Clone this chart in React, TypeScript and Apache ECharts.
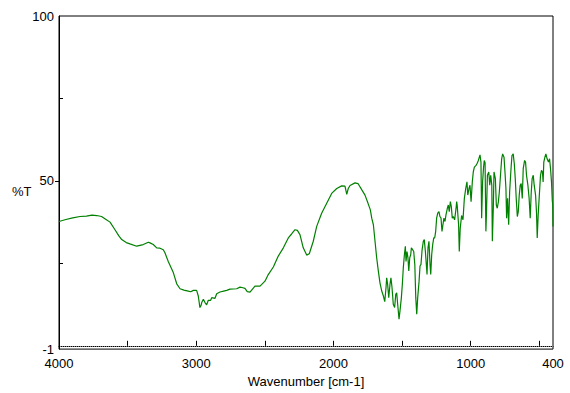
import React, { useEffect, useRef } from "react";
import * as echarts from "echarts";

const wavenumbers = [
  4000, 3950, 3900, 3847, 3800, 3760, 3725, 3690, 3660, 3628, 3592, 3565, 3543, 3510, 3483, 3434, 3386, 3349, 3337, 3313,
  3288, 3264, 3240, 3228, 3203, 3167, 3142, 3118, 3090, 3058, 3040, 3021, 2997, 2985, 2973, 2965, 2960, 2948, 2936, 2924,
  2912, 2895, 2887, 2863, 2851, 2827, 2800, 2778, 2754, 2705, 2681, 2660, 2645, 2628, 2608, 2590, 2572, 2535, 2499, 2475,
  2438, 2402, 2365, 2329, 2305, 2280, 2263, 2244, 2220, 2195, 2176, 2147, 2122, 2086, 2049, 2013, 1976, 1940, 1916, 1903,
  1892, 1879, 1843, 1821, 1792, 1770, 1748, 1731, 1721, 1709, 1697, 1685, 1673, 1661, 1648, 1636, 1626, 1617, 1612, 1605,
  1597, 1588, 1581, 1573, 1564, 1554, 1546, 1539, 1532, 1522, 1515, 1505, 1498, 1491, 1483, 1476, 1471, 1464, 1457, 1451,
  1444, 1437, 1432, 1422, 1415, 1407, 1400, 1393, 1386, 1376, 1369, 1362, 1354, 1345, 1338, 1330, 1323, 1318, 1311, 1304,
  1296, 1291, 1284, 1277, 1269, 1262, 1255, 1248, 1240, 1231, 1224, 1216, 1209, 1202, 1195, 1187, 1180, 1170, 1163, 1156,
  1148, 1141, 1134, 1127, 1117, 1107, 1102, 1098, 1088, 1083, 1076, 1066, 1056, 1046, 1036, 1027, 1021, 1012, 1005, 997,
  988, 981, 973, 961, 954, 944, 932, 925, 920, 913, 906, 901, 895, 889, 885, 878, 868, 861, 854, 846,
  842, 835, 830, 820, 813, 806, 798, 791, 781, 774, 767, 757, 750, 743, 738, 731, 723, 716, 706, 699,
  690, 682, 675, 668, 660, 653, 646, 639, 632, 624, 617, 607, 600, 593, 583, 574, 566, 559, 552, 544,
  537, 527, 520, 515, 508, 501, 491, 484, 477, 472, 467, 459, 452, 443, 433, 425, 418, 411, 405, 402,
  400,
];

const transmittance = [
  37.7, 38.3, 38.8, 39.2, 39.3, 39.6, 39.5, 39.2, 38.4, 37.5, 35.2, 33.4, 32.2, 31.3, 30.9, 30.2, 30.7, 31.4, 31.2, 30.7,
  29.7, 29.6, 29.1, 28.2, 25.5, 22.2, 18.8, 17.3, 16.9, 16.6, 16.4, 16.8, 16.8, 15.1, 11.6, 12.2, 13.1, 14.1, 13.1, 12.4,
  13.8, 13.8, 14.6, 14.4, 15.8, 16.3, 16.6, 16.8, 17.2, 17.3, 17.8, 17.6, 17.4, 16.4, 16.3, 17.2, 18.1, 18.1, 19.6, 21.6,
  23.9, 27.2, 29.7, 32.7, 33.9, 35.2, 35.0, 33.7, 29.7, 27.5, 27.9, 31.7, 36.2, 40.2, 43.2, 46.2, 47.7, 48.5, 48.4, 45.9,
  47.7, 48.6, 49.4, 49.2, 47.2, 45.7, 43.2, 41.2, 38.7, 36.7, 31.7, 26.7, 22.7, 19.1, 16.6, 15.1, 13.4, 17.6, 20.6, 18.6,
  14.6, 18.6, 20.6, 17.6, 12.6, 11.6, 15.6, 16.1, 12.6, 8.1, 10.6, 14.6, 18.6, 23.6, 27.6, 30.2, 25.6, 28.6, 26.7, 22.7,
  26.7, 27.6, 29.7, 29.1, 28.6, 24.6, 14.6, 9.6, 14.6, 19.6, 24.2, 24.7, 29.1, 31.7, 32.2, 28.6, 24.6, 21.6, 29.7, 31.7,
  24.6, 21.6, 27.6, 30.6, 32.7, 32.7, 34.7, 38.7, 40.2, 40.7, 39.2, 38.7, 34.7, 36.7, 38.7, 37.7, 39.7, 41.7, 42.7, 40.7,
  43.7, 42.2, 38.7, 39.2, 38.2, 41.5, 43.7, 42.5, 36.7, 28.6, 35.7, 39.5, 38.2, 44.7, 47.7, 49.7, 45.7, 47.7, 48.7, 43.7,
  49.7, 52.7, 54.2, 54.7, 55.2, 56.2, 57.9, 55.7, 38.7, 49.7, 54.2, 56.2, 55.5, 34.7, 40.0, 51.7, 52.7, 48.7, 51.7, 48.7,
  31.7, 41.7, 52.7, 50.7, 42.7, 41.7, 43.7, 46.7, 52.7, 56.7, 58.2, 57.2, 52.7, 47.7, 38.7, 44.7, 36.7, 46.7, 53.7, 57.7,
  58.2, 55.2, 50.7, 44.7, 39.2, 40.7, 45.7, 48.7, 49.2, 44.7, 53.7, 56.2, 55.7, 51.7, 48.7, 44.7, 38.7, 46.2, 50.7, 51.7,
  48.7, 45.7, 40.2, 32.7, 39.7, 44.7, 51.7, 53.2, 52.7, 49.7, 55.7, 57.2, 58.2, 56.7, 55.7, 56.7, 53.7, 49.7, 44.0, 42.7,
  36.2,
];

const xTickValues = [500, 1000, 1500, 2000, 2500, 3000, 3500];
const xLabelValues = [400, 1000, 2000, 3000, 4000];
const yLabelValues = [-1, 50, 100];
const yOuterTicks = [50];
const yInnerTicks = [0, 25, 75];
const baselineValue = 0;

const FONT = "'Liberation Sans', Arial, sans-serif";

export default function App() {
  const ref = useRef<HTMLDivElement>(null);

  useEffect(() => {
    if (!ref.current) return;
    const chart = echarts.init(ref.current, null, { renderer: "svg" });
    const data = wavenumbers.map((w, i) => [w, transmittance[i]]);
    const textStyle = { color: "#000", fontSize: 13, fontFamily: FONT };

    chart.setOption({
      animation: false,
      backgroundColor: "#fff",
      grid: {
        left: 59,
        right: 17,
        top: 16,
        bottom: 41,
        show: true,
        borderColor: "#000",
        borderWidth: 1,
        backgroundColor: "transparent",
      },
      graphic: [
        {
          type: "text",
          left: 12,
          top: 185,
          style: { text: "%T", fill: "#1a0000", fontSize: 13, fontFamily: FONT },
        },
      ],
      xAxis: {
        type: "value",
        min: 400,
        max: 4000,
        inverse: true,
        axisLine: { show: true, lineStyle: { color: "#000", width: 1 } },
        axisTick: {
          show: true,
          inside: true,
          length: 5,
          customValues: xTickValues,
          lineStyle: { color: "#000", width: 1 },
        },
        axisLabel: {
          customValues: xLabelValues,
          showMinLabel: true,
          showMaxLabel: true,
          margin: 8,
          formatter: (v: number) => String(v),
          ...textStyle,
        },
        splitLine: { show: false },
        name: "Wavenumber [cm-1]",
        nameLocation: "middle",
        nameGap: 23,
        nameTextStyle: textStyle,
      },
      yAxis: [
        {
          type: "value",
          min: -1,
          max: 100,
          position: "left",
          axisLine: { show: true, lineStyle: { color: "#000", width: 1 } },
          axisTick: {
            show: true,
            inside: false,
            length: 4,
            customValues: yOuterTicks,
            lineStyle: { color: "#000", width: 1 },
          },
          axisLabel: {
            customValues: yLabelValues,
            showMinLabel: true,
            showMaxLabel: true,
            margin: 5,
            padding: [3, 0, 0, 0],
            formatter: (v: number) => String(v),
            ...textStyle,
          },
          splitLine: { show: false },
        },
        {
          type: "value",
          min: -1,
          max: 100,
          position: "left",
          axisLine: { show: false },
          axisTick: {
            show: true,
            inside: true,
            length: 4,
            customValues: yInnerTicks,
            lineStyle: { color: "#000", width: 1 },
          },
          axisLabel: { show: false },
          splitLine: { show: false },
        },
      ],
      series: [
        {
          type: "line",
          data,
          yAxisIndex: 0,
          showSymbol: false,
          symbol: "none",
          lineStyle: { color: "#008000", width: 1.2 },
          itemStyle: { color: "#008000" },
          markLine: {
            silent: true,
            symbol: "none",
            label: { show: false },
            lineStyle: { type: "dotted", color: "#808080", width: 1 },
            data: [{ yAxis: baselineValue }],
          },
        },
      ],
    });

    return () => chart.dispose();
  }, []);

  return (
    <div
      ref={ref}
      style={{ position: "absolute", left: 0, top: 0, width: 570, height: 393, background: "#fff" }}
    />
  );
}
